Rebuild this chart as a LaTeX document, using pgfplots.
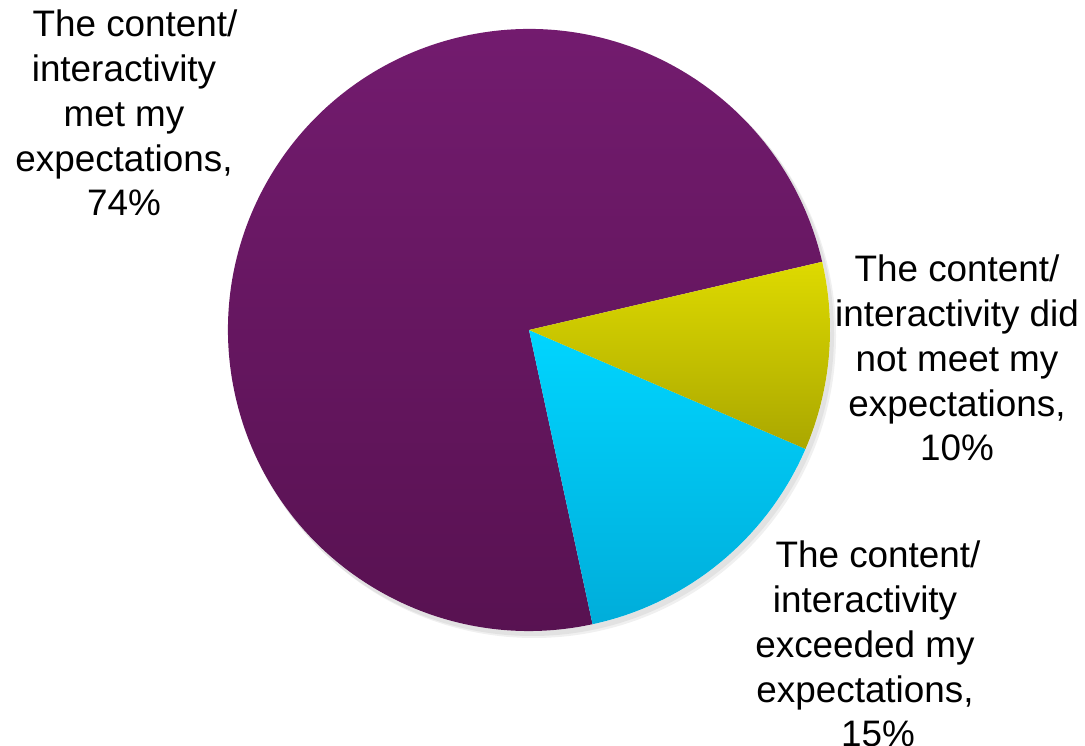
\documentclass[border=0pt]{standalone}
\usepackage{pgfplots}
\pgfplotsset{compat=1.18}
\usepackage{pgfplotstable}
\usepackage{fontspec}
\setmainfont{Liberation Sans}
\definecolor{purpTop}{HTML}{741C70}
\definecolor{purpBot}{HTML}{571150}
\definecolor{yelTop}{HTML}{DEDA00}
\definecolor{yelBot}{HTML}{AAA700}
\definecolor{cyaTop}{HTML}{00D5FF}
\definecolor{cyaBot}{HTML}{00ADDA}
\pgfplotstableread{
label value
met 74
notmet 10
exceeded 15
}\piedata
\begin{document}
\begin{tikzpicture}
\pgfplotstablegetelem{0}{value}\of\piedata\let\vA\pgfplotsretval
\pgfplotstablegetelem{1}{value}\of\piedata\let\vB\pgfplotsretval
\pgfplotstablegetelem{2}{value}\of\piedata\let\vC\pgfplotsretval
\pgfmathsetmacro\tot{\vA+\vB+\vC}
\pgfmathsetmacro\sA{13.1}
\pgfmathsetmacro\eA{\sA+360*(\vA/\tot)}
\pgfmathsetmacro\eC{\eA+360*(\vC/\tot)}
\pgfmathsetmacro\eB{\eC+360*(\vB/\tot)}
\begin{axis}[
  width=1085bp, height=746bp, scale only axis,
  xmin=0, xmax=1085, ymin=0, ymax=746,
  hide axis, clip=false,
]
\addplot[draw=none] coordinates {(529,416)};
% soft shadow
\fill[black, opacity=0.06] (axis cs:532,412) circle[radius=302bp];
\fill[black, opacity=0.06] (axis cs:534,410) circle[radius=302bp];
\fill[white] (axis cs:529,416) circle[radius=301bp];
% wedges
\shade[top color=purpTop, bottom color=purpBot] (axis cs:529,416) -- ++(\sA:301bp) arc[start angle=\sA, end angle=\eA, radius=301bp] -- cycle;
\shade[top color=cyaTop, bottom color=cyaBot] (axis cs:529,416) -- ++(\eA:301bp) arc[start angle=\eA, end angle=\eC, radius=301bp] -- cycle;
\shade[top color=yelTop, bottom color=yelBot] (axis cs:529,416) -- ++(\eC:301bp) arc[start angle=\eC, end angle=\eB, radius=301bp] -- cycle;
% labels
\node[align=center, font=\fontsize{37}{45}\selectfont, inner sep=0pt] at (axis cs:124,633) {\rule{22bp}{0pt}The content/\\interactivity\\met my\\expectations,\\74\%};
\node[align=center, font=\fontsize{37}{45}\selectfont, inner sep=0pt] at (axis cs:957,388) {The content/\\interactivity did\\not meet my\\expectations,\\10\%};
\node[align=center, font=\fontsize{37}{45}\selectfont, inner sep=0pt] at (axis cs:878,102) {The content/\\interactivity\rule{26bp}{0pt}\\exceeded my\rule{26bp}{0pt}\\expectations,\rule{26bp}{0pt}\\15\%};
\end{axis}
\pgfresetboundingbox
\useasboundingbox (0,0) rectangle (1085bp,746bp);
\end{tikzpicture}
\end{document}
